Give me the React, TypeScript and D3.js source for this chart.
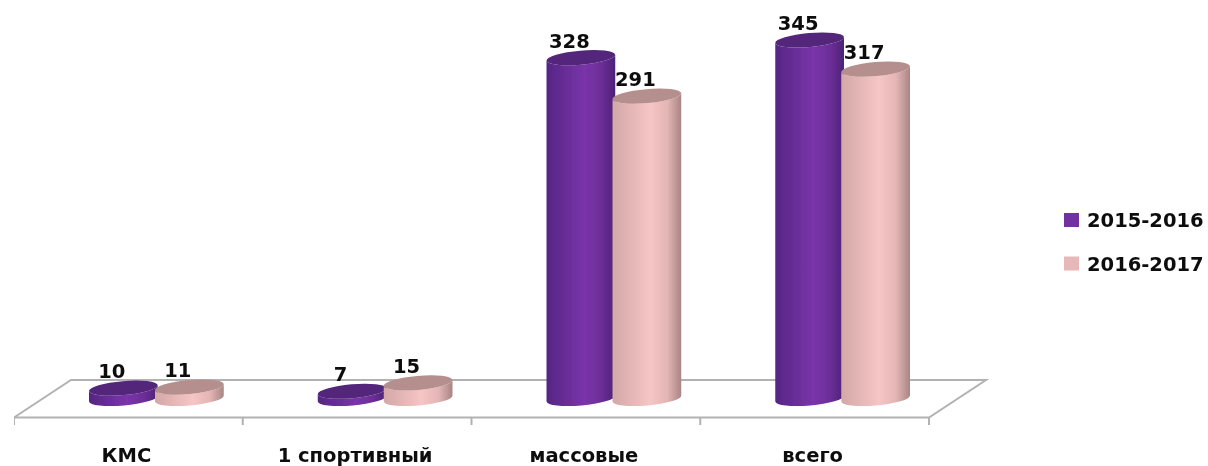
import * as d3 from "d3";

const categories = ["КМС", "1 спортивный", "массовые", "всего"];
const seriesNames = ["2015-2016", "2016-2017"];
const values2015 = [10, 7, 328, 345];
const values2016 = [11, 15, 291, 317];
const seriesValues = [values2015, values2016];

const width = 1208;
const height = 466;
const floorLeft = 14;
const floorRight = 929;
const floorFront = 417.5;
const floorBack = 380;
const depth = 57;
const baseY = 398.5;
const barShift = 28;
const rx = 34.5;
const ry = 7;
const tilt = 5;

const fonts = "'DejaVu Sans', sans-serif";

// top ellipse + body of one cylinder
function cylinderBody(cx: number, top: number) {
  const a = (tilt * Math.PI) / 180;
  const dx = rx * Math.cos(a);
  const dy = rx * Math.sin(a);
  const p = `M${cx - dx},${top + dy}`;
  return (
    p +
    `L${cx - dx},${baseY + dy}` +
    `A${rx},${ry} ${-tilt} 0 0 ${cx + dx},${baseY - dy}` +
    `L${cx + dx},${top - dy}` +
    `A${rx},${ry} ${-tilt} 0 1 ${cx - dx},${top + dy}Z`
  );
}

export default function App() {
  const x = d3.scaleBand().domain(categories).range([floorLeft, floorRight]);
  const inner = d3.scalePoint().domain(seriesNames).range([-33, 33]);
  const y = d3.scaleLinear().domain([0, 345]).range([baseY, 40]);

  const bodyFill = ["url(#purpleBody)", "url(#pinkBody)"];
  const topFill = ["#52267c", "#b48f8d"];
  const swatch = ["#7030a0", "#e6b8b7"];
  const tickXs = [...categories.map((c) => x(c) as number), floorRight];

  return (
    <svg
      width={width}
      height={height}
      viewBox={`0 0 ${width} ${height}`}
      style={{ position: "absolute", left: 0, top: 0, background: "#fff" }}
    >
      <defs>
        <linearGradient id="purpleBody" x1="0" x2="1" y1="0" y2="0">
          <stop offset="0" stopColor="#552684" />
          <stop offset="0.55" stopColor="#7a34aa" />
          <stop offset="0.8" stopColor="#6c2e98" />
          <stop offset="1" stopColor="#4d2276" />
        </linearGradient>
        <linearGradient id="pinkBody" x1="0" x2="1" y1="0" y2="0">
          <stop offset="0" stopColor="#d3a8a7" />
          <stop offset="0.55" stopColor="#f6c5c5" />
          <stop offset="0.8" stopColor="#e3b5b4" />
          <stop offset="1" stopColor="#a88584" />
        </linearGradient>
        <filter id="soft" x="0" y="0" width="100%" height="100%">
          <feGaussianBlur stdDeviation="0.45" />
        </filter>
      </defs>

      <g filter="url(#soft)">
        <g fill="none" stroke="#b2b2b2" strokeWidth={2}>
          <path
            d={`M${floorLeft},${floorFront}L${floorLeft + depth},${floorBack}L${floorRight + depth},${floorBack}L${floorRight},${floorFront}Z`}
          />
          {tickXs.map((t) => (
            <line key={t} x1={t} x2={t} y1={floorFront} y2={425} />
          ))}
        </g>

        {categories.map((c, i) => {
          const center = (x(c) as number) + x.bandwidth() / 2 + barShift;
          return (
            <g key={c}>
              {seriesNames.map((s, k) => {
                const cx = center + (inner(s) as number);
                const top = y(seriesValues[k][i]);
                return (
                  <g key={s}>
                    <path d={cylinderBody(cx, top)} fill={bodyFill[k]} />
                    <ellipse
                      cx={cx}
                      cy={top}
                      rx={rx}
                      ry={ry}
                      fill={topFill[k]}
                      transform={`rotate(${-tilt} ${cx} ${top})`}
                    />
                  </g>
                );
              })}
            </g>
          );
        })}

        {categories.map((c, i) => {
          const center = (x(c) as number) + x.bandwidth() / 2 + barShift;
          return seriesNames.map((s, k) => (
            <text
              key={s}
              x={center + (inner(s) as number) - 11.5}
              y={y(seriesValues[k][i]) - 17}
              dy="0.36em"
              textAnchor="middle"
              fontFamily={fonts}
              fontWeight={700}
              fontSize={19.5}
              fill="#111"
            >
              {seriesValues[k][i]}
            </text>
          ));
        })}

        {categories.map((c) => (
          <text
            key={c}
            x={(x(c) as number) + x.bandwidth() / 2 - 2}
            y={455}
            dy="0.36em"
            textAnchor="middle"
            fontFamily={fonts}
            fontWeight={700}
            fontSize={19.5}
            fill="#111"
          >
            {c}
          </text>
        ))}

        {seriesNames.map((s, k) => (
          <g key={s} transform={`translate(1064,${213 + k * 43.5})`}>
            <rect width={15} height={14} fill={swatch[k]} />
            <text
              x={23}
              y={7}
              dy="0.36em"
              fontFamily={fonts}
              fontWeight={700}
              fontSize={19.5}
              fill="#111"
            >
              {s}
            </text>
          </g>
        ))}
      </g>
    </svg>
  );
}
